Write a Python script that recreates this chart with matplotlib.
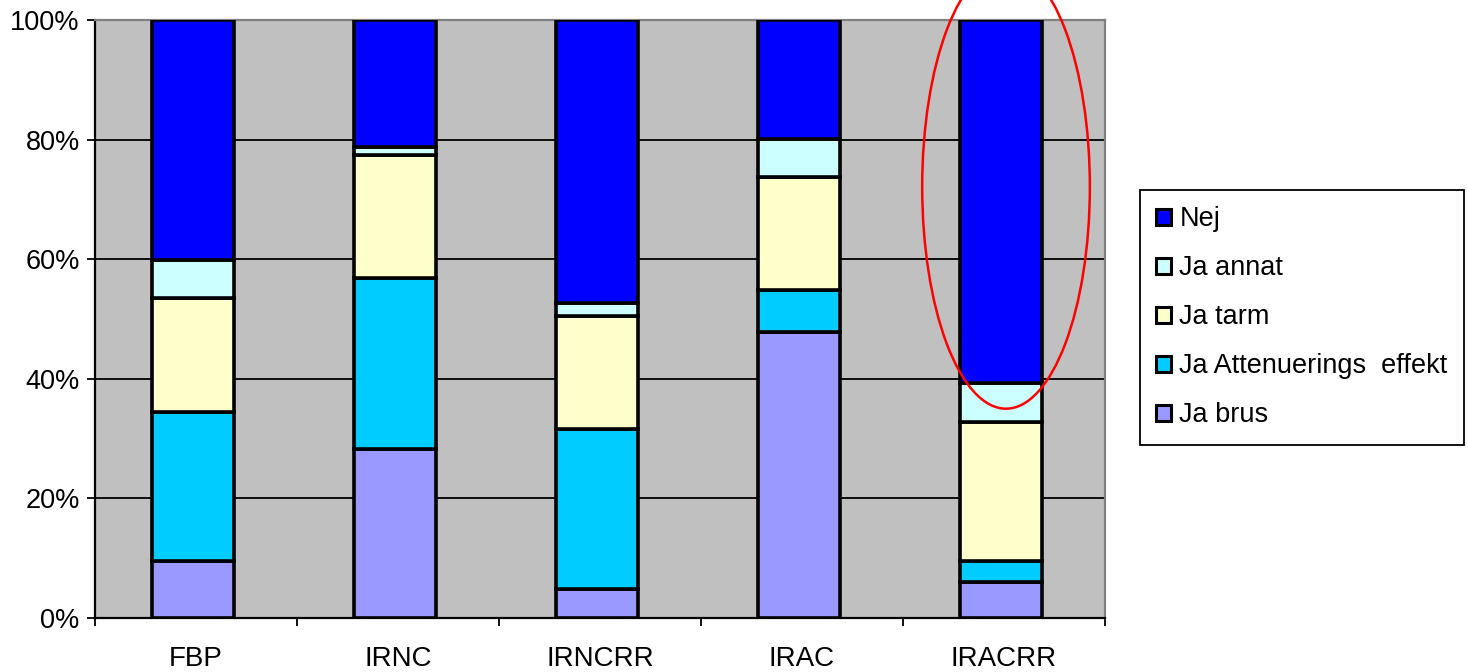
import numpy as np
import matplotlib.pyplot as plt
from matplotlib.patches import Ellipse
from matplotlib.ticker import PercentFormatter

plt.rcParams['font.family'] = ['Liberation Sans', 'DejaVu Sans']

# Categories and stacked shares (percent), bottom to top
categories = ['FBP', 'IRNC', 'IRNCRR', 'IRAC', 'IRACRR']
ja_brus = [9.5, 28.2, 4.9, 47.8, 6.1]
ja_atten = [25.0, 28.6, 26.7, 7.1, 3.4]
ja_tarm = [19.0, 20.7, 18.9, 18.9, 23.3]
ja_annat = [6.3, 1.3, 2.1, 6.3, 6.5]
nej = [40.2, 21.2, 47.4, 19.9, 60.7]

series = [
    ('Ja brus', ja_brus, '#9999FF'),
    ('Ja Attenuerings  effekt', ja_atten, '#00CCFF'),
    ('Ja tarm', ja_tarm, '#FFFFCC'),
    ('Ja annat', ja_annat, '#CCFFFF'),
    ('Nej', nej, '#0000FF'),
]

fig = plt.figure(figsize=(14.68, 6.72), dpi=100)
ax = fig.add_axes([95 / 1468, 54 / 672, 1010 / 1468, 598 / 672])
ax.set_facecolor('#C0C0C0')

x = np.arange(len(categories))
bottom = np.zeros(len(categories))
handles = []
for name, vals, col in series:
    vals = np.array(vals)
    b = ax.bar(x - 0.015, vals, 0.41, bottom=bottom, color=col, edgecolor='black',
               linewidth=2.6, label=name, zorder=3)
    handles.append(b)
    bottom += vals

ax.set_xlim(-0.5, len(categories) - 0.5)
ax.set_ylim(0, 100)
ax.yaxis.set_major_formatter(PercentFormatter(decimals=0))
ax.set_yticks(np.arange(0, 101, 20))
ax.yaxis.grid(True, color='black', linewidth=1.3, zorder=0)
ax.set_axisbelow(True)

ax.set_xticks(x)
ax.set_xticklabels(categories)
ax.set_xticks(np.arange(-0.5, len(categories)), minor=True)
ax.tick_params(axis='x', which='major', length=0, pad=20, labelsize=20)
ax.tick_params(axis='x', which='minor', length=6, width=1.3, direction='out')
ax.tick_params(axis='y', length=6, width=1.3, labelsize=19.5, pad=5)

for s in ['left', 'bottom']:
    ax.spines[s].set_color('black')
    ax.spines[s].set_linewidth(1.6)
for s in ['top', 'right']:
    ax.spines[s].set_color('#808080')
    ax.spines[s].set_linewidth(1.6)

# highlight ring around the last column
ring = Ellipse((4.01, 72.1), 0.83, 74.2, fill=False, edgecolor='red',
               linewidth=1.8, clip_on=False, zorder=5)
ax.add_patch(ring)

leg = fig.legend(handles[::-1], [s[0] for s in series][::-1],
                 loc='upper left', bbox_to_anchor=(1140 / 1468, 482 / 672),
                 bbox_transform=fig.transFigure, fontsize=19.5,
                 handlelength=0.55, handleheight=0.55, handletextpad=0.3,
                 labelspacing=0.85, borderpad=0.6, borderaxespad=0,
                 fancybox=False, edgecolor='black', framealpha=1)
leg.get_frame().set_linewidth(1.3)
for h in leg.legend_handles:
    h.set_linewidth(2.2)

plt.savefig('out.png', dpi=100)
